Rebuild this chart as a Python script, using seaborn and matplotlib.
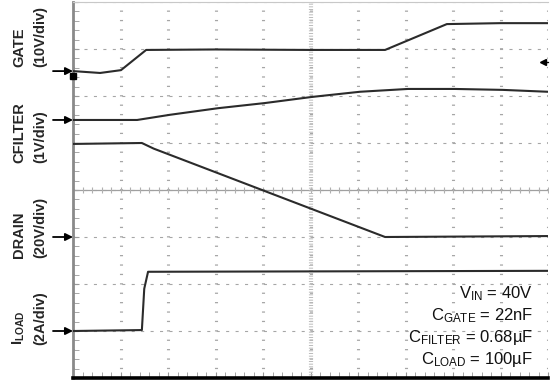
import numpy as np
import pandas as pd
import matplotlib
matplotlib.use("Agg")
import matplotlib.pyplot as plt
import seaborn as sns
from matplotlib import font_manager

# ---------------- data (x and y in scope divisions) ----------------
gate_t = [0.00, 0.57, 1.01, 1.54, 3.00, 5.00, 6.57, 7.87, 9.00, 10.00]
gate_v = [6.53, 6.49, 6.55, 6.98, 6.99, 6.98, 6.98, 7.53, 7.55, 7.55]

cfilter_t = [0.00, 1.35, 2.04, 3.05, 4.04, 5.03, 6.04, 7.05, 8.04, 9.05, 10.00]
cfilter_v = [5.49, 5.49, 5.60, 5.74, 5.85, 5.98, 6.09, 6.15, 6.15, 6.13, 6.09]

drain_t = [0.00, 1.45, 1.70, 6.57, 10.00]
drain_v = [4.98, 5.00, 4.88, 3.00, 3.02]

iload_t = [0.00, 1.45, 1.50, 1.58, 10.00]
iload_v = [1.00, 1.02, 1.90, 2.26, 2.28]

trace_names = ["GATE", "CFILTER", "DRAIN", "ILOAD"]
ground_levels = [6.53, 5.49, 3.00, 1.00]
trigger_level = 6.72

scale_labels = ["(10V/div)", "(1V/div)", "(20V/div)", "(2A/div)"]
name_labels = ["GATE", "CFILTER", "DRAIN", r"I$_{\mathbf{LOAD}}$"]
label_bottom_px = [67, 163, 258, 345]

note_lines = [r"V$_{\mathrm{IN}}$ = 40V",
              r"C$_{\mathrm{GATE}}$ = 22nF",
              r"C$_{\mathrm{FILTER}}$ = 0.68µF",
              r"C$_{\mathrm{LOAD}}$ = 100µF"]
note_baseline_px = [298, 320, 342, 364]

# ---------------- fonts ----------------
names = {f.name for f in font_manager.fontManager.ttflist}
narrow = "Liberation Sans"
for cand in ["Liberation Sans Narrow", "Arial Narrow"]:
    if cand in names:
        narrow = cand
        break
label_size = 12 if narrow != "Liberation Sans" else 10.5

sns.set_style("white")
plt.rcParams["font.family"] = ["Liberation Sans", "DejaVu Sans"]
plt.rcParams["mathtext.fontset"] = "custom"
plt.rcParams["mathtext.rm"] = "Liberation Sans"
plt.rcParams["mathtext.it"] = "Liberation Sans:italic"
plt.rcParams["mathtext.bf"] = narrow + ":bold"
plt.rcParams["lines.scale_dashes"] = False

W, H = 550, 385
fig = plt.figure(figsize=(W / 100, H / 100), dpi=100)
fig.patch.set_facecolor("white")
ax = fig.add_axes([73 / W, 7 / H, 475 / W, 376 / H])
ax.set_xlim(0, 10)
ax.set_ylim(0, 8)

# ---------------- graticule ----------------
ax.set_xticks(np.arange(0, 11, 1))
ax.set_yticks(np.arange(0, 9, 1))
ax.set_xticklabels([])
ax.set_yticklabels([])
ax.xaxis.grid(True, color="#a6a6a6", lw=2.2, linestyle=(0, (0.9, 5.87)))
ax.yaxis.grid(True, color="#a6a6a6", lw=0.8, linestyle=(5.7, (2.2, 4.6)))
ax.set_axisbelow(True)
ax.axhline(4, color="#a0a0a0", lw=0.9, zorder=1)
sub = np.arange(0, 10.01, 0.2)
ax.plot(sub, np.full_like(sub, 4.0), ls="none", marker="|", ms=4, mew=0.8,
        color="#b0b0b0", zorder=1)
ax.axvline(5, color="#bdbdbd", lw=3.0, linestyle=(0, (0.72, 1.2)), zorder=1)
ax.yaxis.set_minor_locator(matplotlib.ticker.MultipleLocator(0.2))
ax.xaxis.set_minor_locator(matplotlib.ticker.MultipleLocator(0.2))
ax.tick_params(axis="y", which="both", direction="in", length=4, color="#999999", left=True)
ax.tick_params(axis="x", which="both", direction="in", length=4, color="#999999", bottom=True)

ax.spines["right"].set_visible(False)
ax.spines["left"].set_color("#8a8a8a")
ax.spines["left"].set_linewidth(2.0)
ax.spines["top"].set_color("#c8c8c8")
ax.spines["top"].set_linewidth(0.8)
ax.spines["bottom"].set_color("black")
ax.spines["bottom"].set_linewidth(2.6)

# ---------------- traces ----------------
traces = {"GATE": (gate_t, gate_v), "CFILTER": (cfilter_t, cfilter_v),
          "DRAIN": (drain_t, drain_v), "ILOAD": (iload_t, iload_v)}
frames = []
for name in trace_names:
    t, v = traces[name]
    frames.append(pd.DataFrame({"trace": name, "t": t, "v": v}))
df = pd.concat(frames, ignore_index=True)
for name in trace_names:
    sns.lineplot(data=df[df.trace == name], x="t", y="v", sort=False,
                 estimator=None, color="#2b2b2b", lw=1.5, ax=ax, zorder=3)
ax.set_xlabel("")
ax.set_ylabel("")

# ground markers (arrows at left)
for g in ground_levels:
    ax.annotate("", xy=(0, g), xytext=(-20, 0), textcoords="offset pixels",
                arrowprops=dict(arrowstyle="-|>", color="black", lw=1.3,
                                mutation_scale=11, shrinkA=0, shrinkB=0),
                annotation_clip=False)
ax.plot([0.0], [ground_levels[0] - 0.1], marker="s", ms=4, color="black",
        clip_on=False, zorder=4)

# trigger marker at right
ax.plot([9.9], [trigger_level], marker="<", ms=5, color="black", clip_on=False, zorder=4)
ax.plot([9.9, 10.0], [trigger_level, trigger_level], color="black", lw=1.0,
        clip_on=False, zorder=4)

# ---------------- labels ----------------
for nm, sc, yb in zip(name_labels, scale_labels, label_bottom_px):
    fig.text(19 / W, (H - yb) / H, nm, rotation=90, ha="center", va="bottom",
             fontsize=label_size, fontweight="bold", family=[narrow, "DejaVu Sans"])
    fig.text(40 / W, (H - yb) / H, sc, rotation=90, ha="center", va="bottom",
             fontsize=label_size, fontweight="bold", family=[narrow, "DejaVu Sans"])

for line, yb in zip(note_lines, note_baseline_px):
    fig.text(533 / W, (H - yb) / H, line, ha="right", va="baseline",
             fontsize=12, color="#111111")

fig.savefig("out.png", dpi=100, facecolor="white")
